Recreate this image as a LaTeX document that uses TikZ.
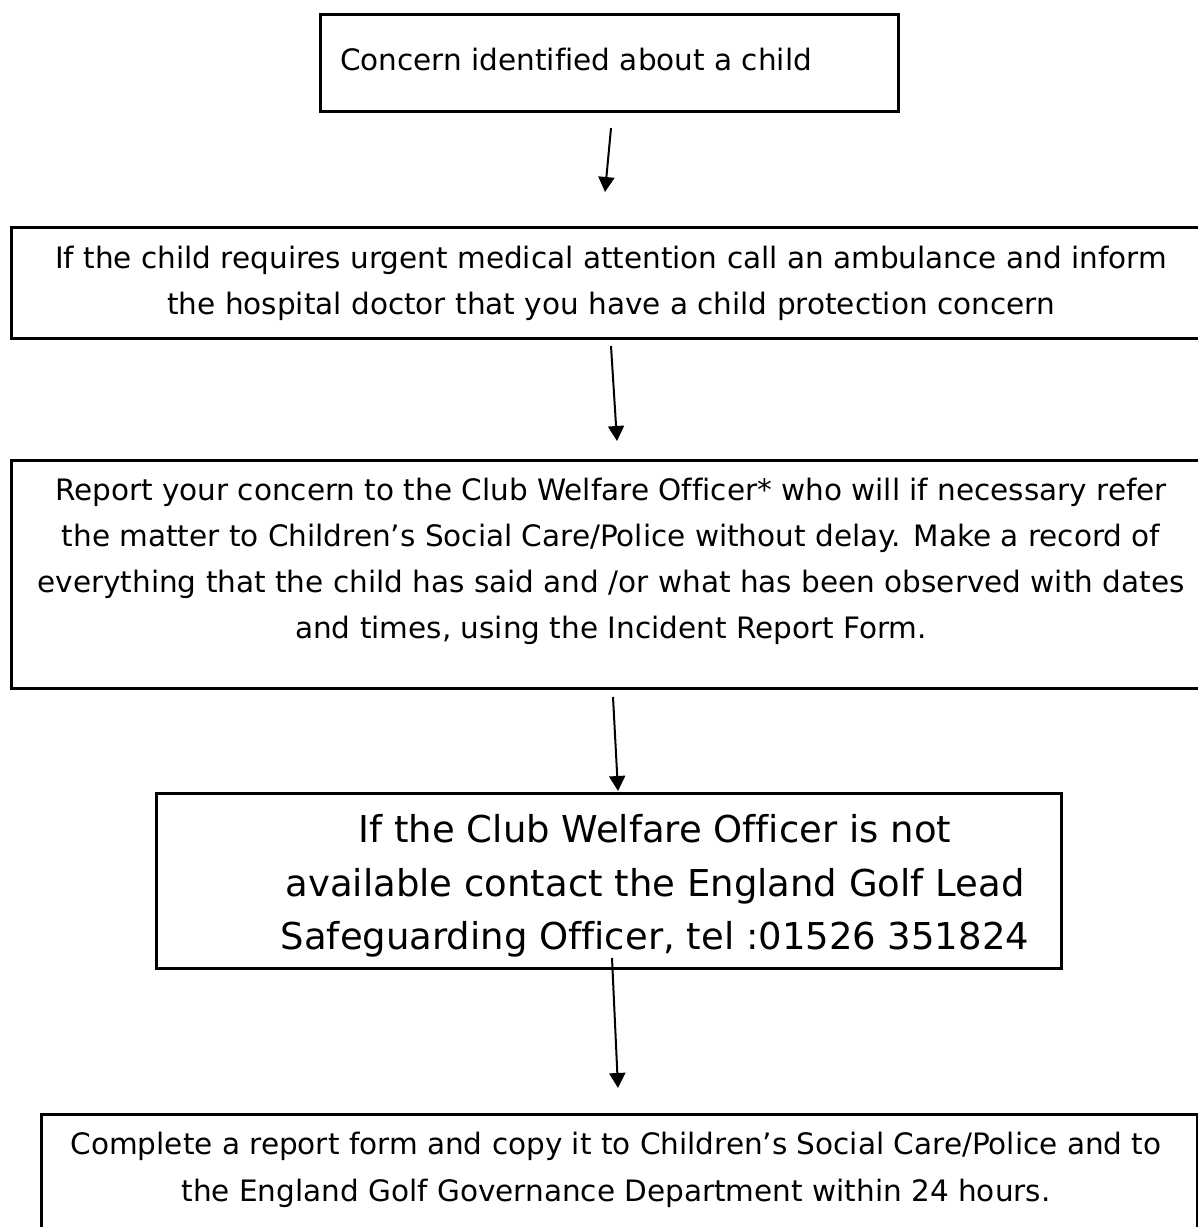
\documentclass[tikz,border=0pt]{standalone}
\usepackage{fontspec}
\setmainfont[Ligatures={NoCommon}]{DejaVu Sans}
\usetikzlibrary{arrows.meta}
\begin{document}
\begin{tikzpicture}[x=1pt,y=-1pt,
  box/.style={draw,line width=2.8pt,rectangle,inner sep=0pt,anchor=north west},
  small/.style={inner sep=0pt,anchor=base,font=\fontsize{29.5}{46}\selectfont},
  big/.style={inner sep=0pt,anchor=base,font=\fontsize{37}{54}\selectfont},
  arr/.style={line width=2pt,-{Triangle[width=16pt,length=15pt]}}]
\useasboundingbox (0,0) rectangle (1198,1227);
\fill[white] (0,0) rectangle (1198,1227);
% boxes
\node[box,minimum width=578pt,minimum height=97pt] (b1) at (319,13) {};
\node[box,minimum width=1200pt,minimum height=111pt] (b2) at (10,226) {};
\node[box,minimum width=1200pt,minimum height=228pt] (b3) at (10,459) {};
\node[box,minimum width=905pt,minimum height=175pt] (b4) at (155,792) {};
\node[box,minimum width=1156pt,minimum height=150pt] (b5) at (40,1113) {};
% texts
\node[small,anchor=base west] (t1) at (340,70) {Concern identified about a child};
\node[small] (t2a) at (611,268) {If the child requires urgent medical attention call an ambulance and inform};
\node[small] (t2b) at (611,314) {the hospital doctor that you have a child protection concern};
\node[small] (t3a) at (611,500) {Report your concern to the Club Welfare Officer* who will if necessary refer};
\node[small] (t3b) at (611,546) {the matter to Children’s Social Care/Police without delay. Make a record of};
\node[small] (t3c) at (611,592) {everything that the child has said and /or what has been observed with dates};
\node[small] (t3d) at (611,638) {and times, using the Incident Report Form.};
\node[big] (t4a) at (655,842) {If the Club Welfare Officer is not};
\node[big] (t4b) at (655,896) {available contact the England Golf Lead};
\node[big] (t4c) at (655,949) {Safeguarding Officer, tel :01526 351824};
\node[small] (t5a) at (616,1154) {Complete a report form and copy it to Children’s Social Care/Police and to};
\node[small] (t5b) at (616,1201) {the England Golf Governance Department within 24 hours.};
% arrows
\coordinate (a1s) at (611,128); \coordinate (a1e) at (605,192);
\coordinate (a2s) at (611,346); \coordinate (a2e) at (617,441);
\coordinate (a3s) at (613,697); \coordinate (a3e) at (618,791);
\coordinate (a4s) at (612,958); \coordinate (a4e) at (618,1088);
\draw[arr] (a1s) -- (a1e);
\draw[arr] (a2s) -- (a2e);
\draw[arr] (a3s) -- (a3e);
\draw[arr] (a4s) -- (a4e);
\end{tikzpicture}
\end{document}
